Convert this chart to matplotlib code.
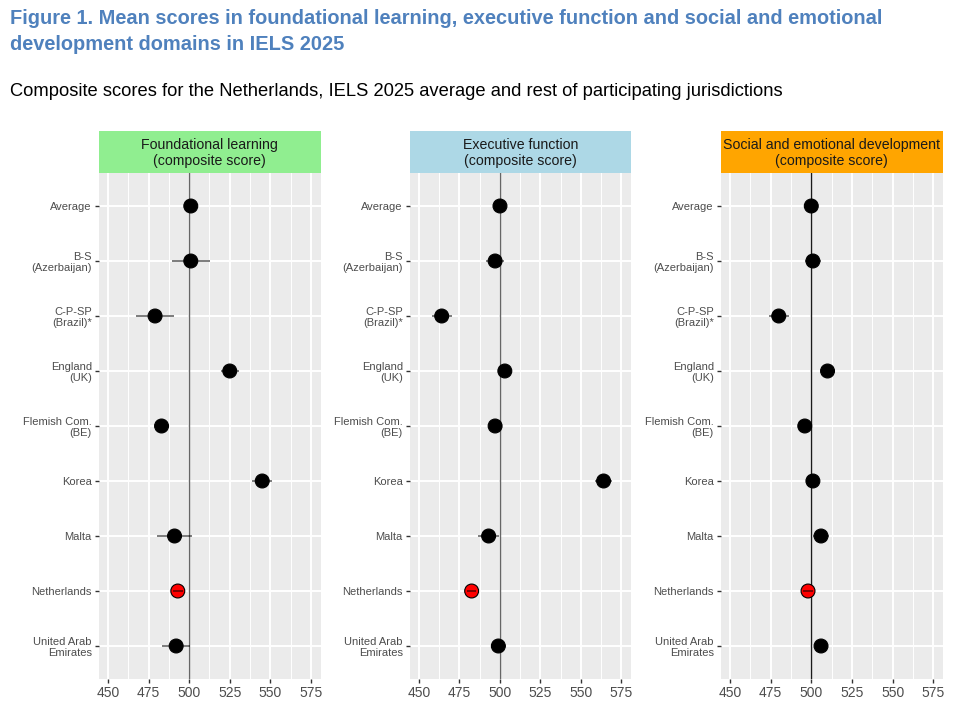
import matplotlib
matplotlib.use("Agg")
import matplotlib.pyplot as plt
import numpy as np

# ---------------- data ----------------
countries = ["Average", "B-S\n(Azerbaijan)", "C-P-SP\n(Brazil)*", "England\n(UK)",
             "Flemish Com.\n(BE)", "Korea", "Malta", "Netherlands",
             "United Arab\nEmirates"]

panels = ["Foundational learning\n(composite score)",
          "Executive function\n(composite score)",
          "Social and emotional development\n(composite score)"]

foundational = [501, 501, 479, 525, 483, 545, 491, 493, 492]
foundational_err = [0, 11.7, 11.7, 5.4, 3, 6, 10.5, 3, 8.5]

executive = [500, 497, 464, 503, 497, 564, 493, 482.5, 499]
executive_err = [0, 5.5, 6.2, 3, 2, 5, 6.5, 3, 4.7]

social = [500, 501, 480, 510, 496, 501, 506, 498, 506]
social_err = [0, 4.7, 6.3, 2, 2, 3, 4.8, 3, 3]

xticks = [450, 475, 500, 525, 550, 575]
highlight = "Netherlands"

means = [foundational, executive, social]
errs = [foundational_err, executive_err, social_err]
strip_cols = ["#90EE90", "#ADD8E6", "#FFA500"]
ref_cols = ["#666666", "#666666", "#1a1a1a"]

W, H = 972, 714
fig = plt.figure(figsize=(W / 100, H / 100), dpi=100)

sans = ["Liberation Sans", "DejaVu Sans"]

fig.text(10 / W, 1 - 18 / H,
         "Figure 1. Mean scores in foundational learning, executive function and social and emotional",
         ha="left", va="center", fontsize=14.4, fontweight="bold", color="#4F81BD", family=sans)
fig.text(10 / W, 1 - 45 / H, "development domains in IELS 2025",
         ha="left", va="center", fontsize=14.4, fontweight="bold", color="#4F81BD", family=sans)
fig.text(10 / W, 1 - 92 / H,
         "Composite scores for the Netherlands, IELS 2025 average and rest of participating jurisdictions",
         ha="left", va="center", fontsize=13.2, color="black", family=sans)

panel_x = [(98.7, 320.7), (409.8, 631.1), (720.7, 943.0)]
top, bottom, strip_top = 173, 679, 131
ypos = np.arange(1, len(countries) + 1)

for k in range(3):
    x0, x1 = panel_x[k]
    ax = fig.add_axes([x0 / W, 1 - bottom / H, (x1 - x0) / W, (bottom - top) / H])
    ax.set_facecolor("#EBEBEB")
    for s in ax.spines.values():
        s.set_visible(False)

    ax.set_xlim(444.3, 581)
    ax.set_ylim(9.6, 0.4)
    ax.set_xticks(xticks)
    ax.set_xticks([462.5, 487.5, 512.5, 537.5, 562.5], minor=True)
    ax.set_yticks(ypos)
    ax.set_yticklabels(countries, family=sans, fontsize=8.0, color="#4D4D4D",
                       linespacing=1.1)
    ax.set_xticklabels([str(t) for t in xticks], family=sans, fontsize=10, color="#4D4D4D")
    ax.tick_params(axis="both", which="major", length=3, width=1, color="#333333", pad=2)
    ax.tick_params(axis="x", which="minor", length=0)
    ax.grid(True, which="major", color="white", linewidth=1.4)
    ax.grid(True, which="minor", axis="x", color="white", linewidth=0.7)
    ax.set_axisbelow(True)

    ax.axvline(500, color=ref_cols[k], linewidth=1, zorder=2)

    m = np.array(means[k])
    e = np.array(errs[k])
    cols = ["red" if c == highlight else "black" for c in countries]
    ax.scatter(m, ypos, s=100, c=cols, edgecolors="black", linewidths=0.8, zorder=3)
    ax.errorbar(m, ypos, xerr=e, fmt="none", ecolor="black", alpha=0.55,
                elinewidth=1.3, capsize=0, zorder=4)

    sax = fig.add_axes([x0 / W, 1 - top / H, (x1 - x0) / W, (top - strip_top) / H])
    sax.set_facecolor(strip_cols[k])
    sax.set_xticks([])
    sax.set_yticks([])
    for s in sax.spines.values():
        s.set_visible(False)
    sax.text(0.5, 0.47, panels[k], ha="center", va="center", fontsize=10.2,
             color="#1A1A1A", family=sans, linespacing=1.15, transform=sax.transAxes)

fig.savefig("out.png", dpi=100)
